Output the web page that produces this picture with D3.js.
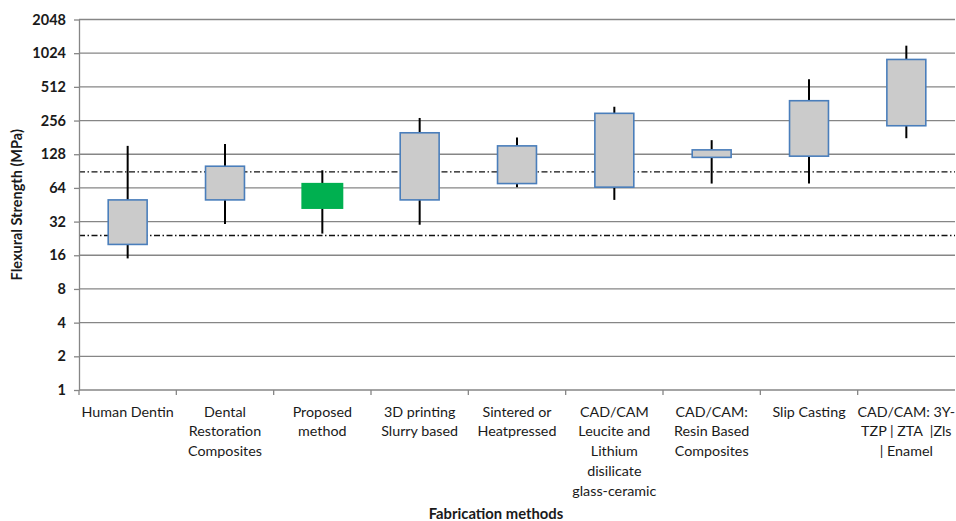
<!DOCTYPE html>
<html>
<head>
<meta charset="utf-8">
<script src="https://cdn.jsdelivr.net/npm/d3@7"></script>
<style>
  html, body { margin: 0; padding: 0; background: #fff; }
  svg { display: block; font-family: Lato, "Open Sans", sans-serif; }
  text { white-space: pre; }
</style>
</head>
<body>
<svg id="chart" width="956" height="521"></svg>
<script>
// Fabrication method categories (label lines)
const categories = [
  ["Human Dentin"],
  ["Dental", "Restoration", "Composites"],
  ["Proposed", "method"],
  ["3D printing", "Slurry based"],
  ["Sintered or", "Heatpressed"],
  ["CAD/CAM", "Leucite and", "Lithium", "disilicate", "glass-ceramic"],
  ["CAD/CAM:", "Resin Based", "Composites"],
  ["Slip Casting"],
  ["CAD/CAM: 3Y-", "TZP | ZTA  |Zls", "| Enamel"]
];

// Flexural strength ranges in MPa
const whiskerLow  = [15,   30.5, 25,  30,  65,  50,  70,  70,  178];
const boxLow      = [20,   50,   41.5, 50, 70,  65,  120, 123, 230];
const boxHigh     = [50,   100,  71,  199, 152, 297, 140, 385, 900];
const whiskerHigh = [152,  158,  92,  270, 181, 340, 171, 600, 1195];

// Highlighted category index (proposed method)
const highlight = [2];

// Reference band limits (dash-dot lines)
const referenceLines = [24, 89];

// Y-axis tick values (powers of two)
const yTicks = [1, 2, 4, 8, 16, 32, 64, 128, 256, 512, 1024, 2048];

const yTitle = "Flexural Strength (MPa)";
const xTitle = "Fabrication methods";

const svg = d3.select("#chart");
const margin = { left: 79, right: 1, top: 19.5, bottom: 131 };
const W = 956, H = 521;
const textColor = "#1a1a1a";

const x = d3.scaleBand()
  .domain(d3.range(categories.length))
  .range([margin.left, W - margin.right])
  .paddingInner(0).paddingOuter(0);

const y = d3.scaleLog().base(2)
  .domain([1, 2048])
  .range([H - margin.bottom, margin.top]);

const gridColor = "#868686";

// horizontal gridlines
svg.append("g")
  .selectAll("line")
  .data(yTicks.slice(1))
  .join("line")
  .attr("x1", margin.left).attr("x2", W - margin.right)
  .attr("y1", d => y(d)).attr("y2", d => y(d))
  .attr("stroke", gridColor).attr("stroke-width", 1.3);

// reference lines
svg.append("g")
  .selectAll("line")
  .data(referenceLines)
  .join("line")
  .attr("x1", margin.left).attr("x2", W - margin.right)
  .attr("y1", d => y(d)).attr("y2", d => y(d))
  .attr("stroke", "#111").attr("stroke-width", 1.4)
  .attr("stroke-dasharray", "6,2.5,1.5,2.5");

// y axis
const yAxis = svg.append("g")
  .attr("transform", `translate(${margin.left},0)`)
  .call(d3.axisLeft(y).tickValues(yTicks).tickFormat(d3.format("d")).tickSize(5).tickSizeOuter(0));
yAxis.select(".domain").attr("stroke", gridColor).attr("stroke-width", 1.3);
yAxis.selectAll(".tick line").attr("stroke", gridColor).attr("stroke-width", 1.3);
yAxis.selectAll(".tick text")
  .attr("x", -13)
  .attr("fill", textColor)
  .style("font-size", "14.5px").style("font-weight", "bold")
  .style("font-family", "Lato, sans-serif");

// x axis (ticks at category boundaries)
const xEdges = d3.range(categories.length).map(i => x(i));
const xAxisG = svg.append("g");
xAxisG.append("line")
  .attr("x1", margin.left).attr("x2", W - margin.right)
  .attr("y1", y(1)).attr("y2", y(1))
  .attr("stroke", gridColor).attr("stroke-width", 1.3);
xAxisG.selectAll("line.tk")
  .data(xEdges)
  .join("line").attr("class", "tk")
  .attr("x1", d => d).attr("x2", d => d)
  .attr("y1", y(1)).attr("y2", y(1) + 5)
  .attr("stroke", gridColor).attr("stroke-width", 1.3);

// category labels
const labels = svg.append("g")
  .selectAll("text")
  .data(categories)
  .join("text")
  .attr("text-anchor", "middle")
  .attr("fill", textColor)
  .style("font-size", "14.3px");
labels.each(function(lines, i) {
  d3.select(this).selectAll("tspan")
    .data(lines)
    .join("tspan")
    .attr("x", x(i) + x.bandwidth() / 2)
    .attr("y", (d, j) => 416.5 + j * 19.8)
    .text(d => d);
});

// boxes
const bw = x.bandwidth() * 0.4;
const groups = svg.append("g")
  .selectAll("g")
  .data(categories.map((c, i) => i))
  .join("g");

groups.append("line")
  .attr("x1", i => x(i) + x.bandwidth() / 2)
  .attr("x2", i => x(i) + x.bandwidth() / 2)
  .attr("y1", i => y(whiskerLow[i]))
  .attr("y2", i => y(whiskerHigh[i]))
  .attr("stroke", "#000").attr("stroke-width", 2);

groups.append("rect")
  .attr("x", i => x(i) + x.bandwidth() / 2 - (highlight.includes(i) ? bw / 2 + 1.5 : bw / 2))
  .attr("width", i => highlight.includes(i) ? bw + 3 : bw)
  .attr("y", i => y(boxHigh[i]))
  .attr("height", i => y(boxLow[i]) - y(boxHigh[i]))
  .attr("fill", i => highlight.includes(i) ? "#00b050" : "#cbcbcb")
  .attr("stroke", i => highlight.includes(i) ? "none" : "#4a7ebb")
  .attr("stroke-width", 1.6);

// axis titles
svg.append("text")
  .attr("transform", `translate(22,${(y(1) + y(2048)) / 2 + 0}) rotate(-90)`)
  .attr("text-anchor", "middle")
  .attr("fill", textColor)
  .style("font-size", "14.5px").style("font-weight", "bold")
  .text(yTitle);

svg.append("text")
  .attr("x", 496).attr("y", 519)
  .attr("text-anchor", "middle")
  .attr("fill", textColor)
  .style("font-size", "14.8px").style("font-weight", "bold")
  .text(xTitle);
</script>
</body>
</html>
